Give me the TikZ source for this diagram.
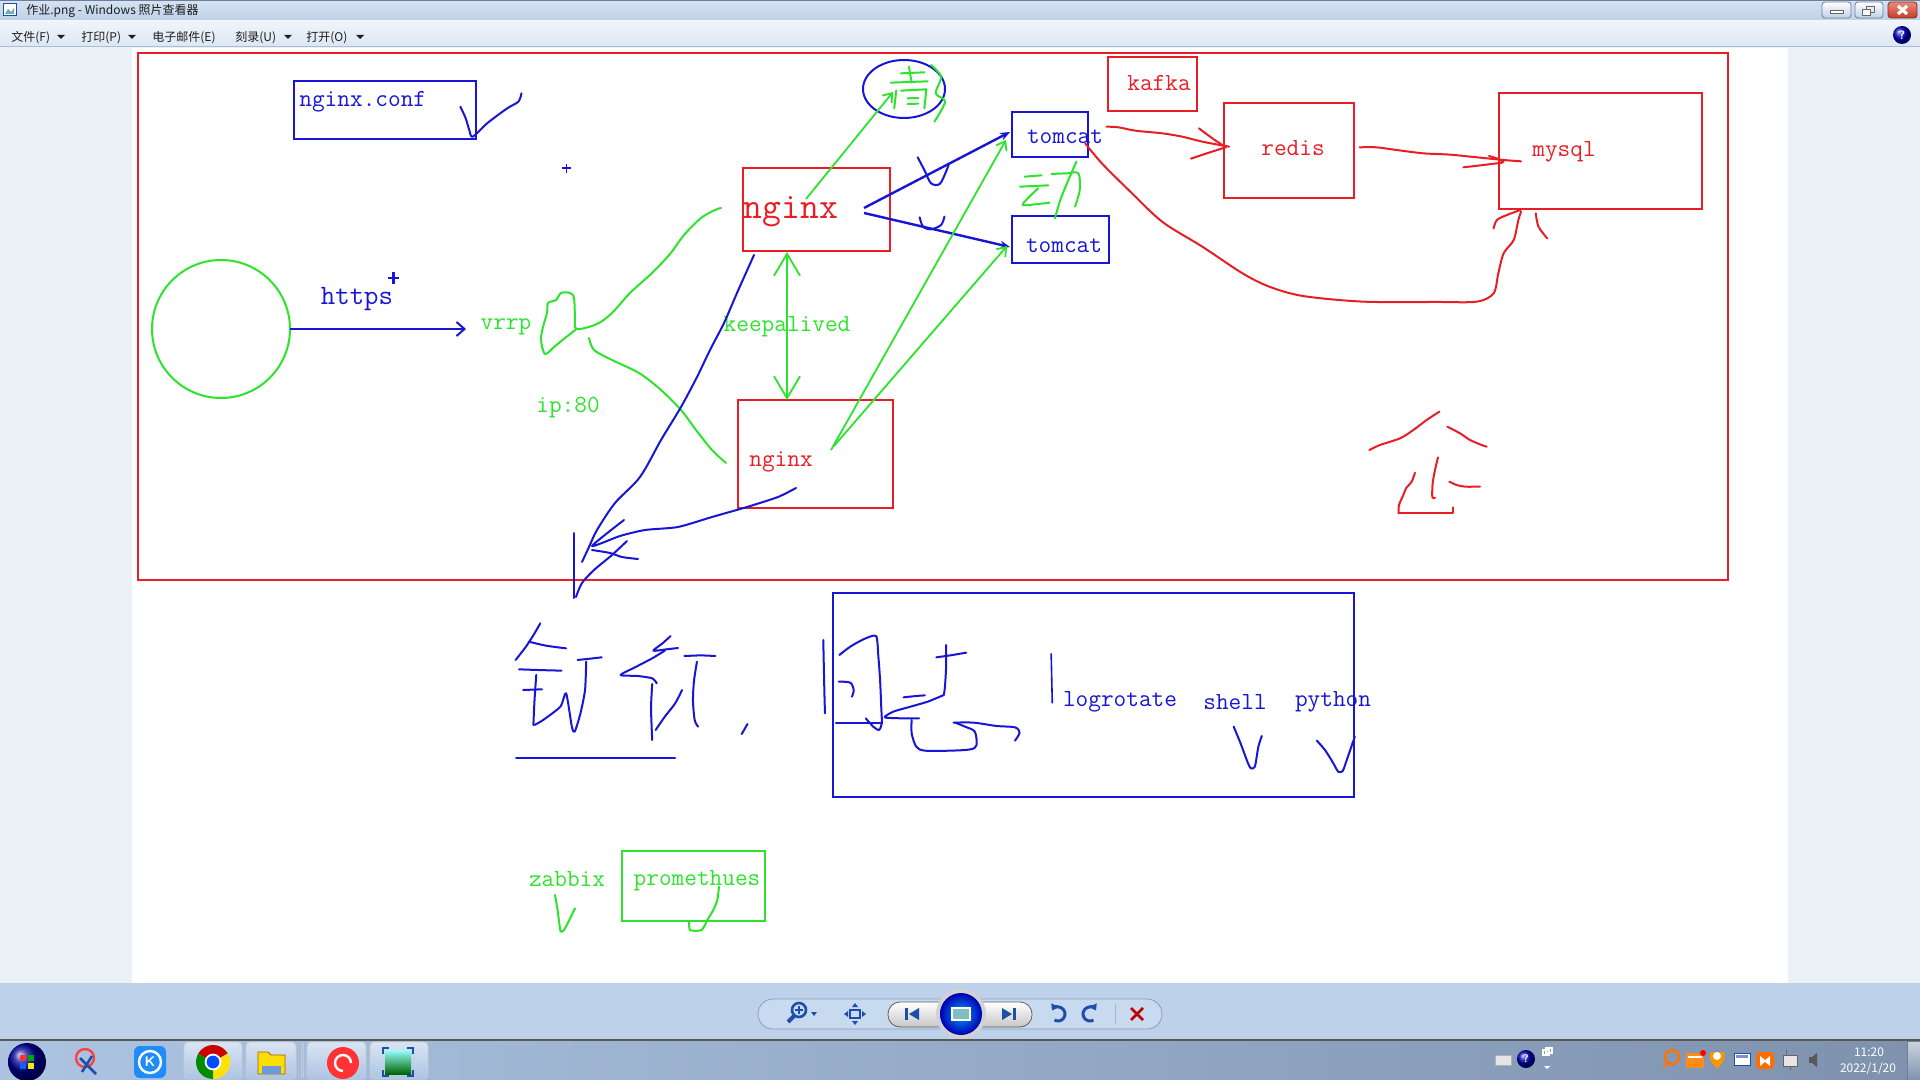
\documentclass[tikz,border=0pt]{standalone}
\usepackage{fontspec}
\newfontfamily\cjk{Noto Sans CJK SC}
\usetikzlibrary{arrows.meta,shapes.geometric}
\definecolor{pr}{RGB}{232,30,36}
\definecolor{pb}{RGB}{22,22,212}
\definecolor{pg}{RGB}{44,228,44}
\definecolor{viewbg}{RGB}{236,241,248}
\definecolor{titleA}{RGB}{214,227,242}
\definecolor{titleB}{RGB}{190,208,232}
\definecolor{menuA}{RGB}{240,245,251}
\definecolor{menuB}{RGB}{220,230,243}
\definecolor{menuline}{RGB}{170,188,212}
\definecolor{toolbg}{RGB}{190,209,234}
\definecolor{pillbg}{RGB}{200,218,239}
\definecolor{pilledge}{RGB}{140,158,182}
\definecolor{taskA}{RGB}{172,196,226}
\definecolor{taskB}{RGB}{126,146,174}
\definecolor{uitext}{RGB}{30,30,30}
\definecolor{iconblue}{RGB}{28,78,170}
\definecolor{btnedge}{RGB}{110,128,152}
\definecolor{closeA}{RGB}{232,140,120}
\definecolor{closeB}{RGB}{196,60,40}
\definecolor{kblue}{RGB}{30,140,250}
\begin{document}
\begin{tikzpicture}[x=0.5pt,y=-0.5pt,
  sz/.style 2 args={minimum width=#1*0.5pt,minimum height=#2*0.5pt,inner sep=0pt,outer sep=0pt},
  rbox/.style={draw=pr,line width=1pt},
  bbox/.style={draw=pb,line width=1pt},
  gbox/.style={draw=pg,line width=1pt},
  hand/.style={line width=1pt,line cap=round,line join=round},
  lbl/.style={font=\ttfamily\fontsize{12.3pt}{14pt}\selectfont,inner sep=0pt},
  ui/.style={font=\cjk\fontsize{6pt}{7pt}\selectfont,inner sep=0pt,text=uitext},
  barb/.style={-{Straight Barb[length=4pt,width=6pt]}},
  dbarb/.style={{Straight Barb[length=11pt,width=13pt]}-{Straight Barb[length=11pt,width=13pt]}},
  taskbtn/.style={top color=white!55!taskA,bottom color=taskA,draw=white!60!btnedge,rounded corners=2pt},
]
\useasboundingbox (0,0) rectangle (1920,1080);
% ---------- window chrome ----------
\fill[viewbg] (0,0) rectangle (1920,1080);
\shade[top color=titleA,bottom color=titleB] (0,0) rectangle (1920,21);
\draw[btnedge,line width=0.5pt] (0,0.5) -- (1920,0.5);
\fill[white] (3,4) rectangle (16,16);
\draw[iconblue,line width=0.5pt] (3,4) rectangle (16,16);
\fill[teal!60] (5,14) -- (8,9) -- (11,12) -- (14,8) -- (14,14) -- cycle;
\node[ui,anchor=west] (ttl) at (26,11) {作业.png - Windows 照片查看器};
\shadedraw[top color=white,bottom color=titleB,draw=btnedge,rounded corners=1.5pt] (1822,2) rectangle (1851,18);
\draw[fill=white,draw=black!60] (1830,10) rectangle (1843,13);
\shadedraw[top color=white,bottom color=titleB,draw=btnedge,rounded corners=1.5pt] (1855,2) rectangle (1883,18);
\draw[black!60] (1866,6) rectangle (1874,12);
\draw[fill=white,draw=black!60] (1862,9) rectangle (1870,15);
\shadedraw[top color=closeA,bottom color=closeB,draw=closeB!70!black,rounded corners=1.5pt] (1888,2) rectangle (1917,18);
\draw[white,line width=1.6pt] (1898,6) -- (1907,14) (1907,6) -- (1898,14);
% menu
\shade[top color=menuA,bottom color=menuB] (0,21) rectangle (1920,47);
\draw[menuline,line width=0.5pt] (0,47) -- (1920,47);
\node[ui,anchor=west] (m1) at (11,38) {文件(F)};
\fill[uitext] (57,35) -- (65,35) -- (61,39) -- cycle;
\node[ui,anchor=west] (m2) at (81,38) {打印(P)};
\fill[uitext] (128,35) -- (136,35) -- (132,39) -- cycle;
\node[ui,anchor=west] (m3) at (152,38) {电子邮件(E)};
\node[ui,anchor=west] (m4) at (235,38) {刻录(U)};
\fill[uitext] (284,35) -- (292,35) -- (288,39) -- cycle;
\node[ui,anchor=west] (m5) at (306,38) {打开(O)};
\fill[uitext] (356,35) -- (364,35) -- (360,39) -- cycle;
\shade[ball color=blue!75!black] (1902,35) circle (4.5pt);
\node[text=white,font=\bfseries\sffamily\fontsize{6pt}{7pt}\selectfont,inner sep=0pt] (help) at (1902,35) {?};
% picture area
\fill[white] (132,48) rectangle (1788,983);
% bottom toolbar
\fill[toolbg] (0,983) rectangle (1920,1040);
\draw[fill=pillbg,draw=pilledge,rounded corners=7.5pt] (758,999) rectangle (1162,1029);
\shadedraw[top color=white,bottom color=gray!45,draw=gray!75!black,rounded corners=6pt] (888,1002) rectangle (1032,1027);
\fill[gray!35] (961,1014) circle (12.5pt);
\shade[inner color=cyan!60!blue,outer color=blue!70!black] (961,1014) circle (10.5pt);
\fill[white] (951,1007) rectangle (971,1021);
\fill[teal!50] (953,1009) rectangle (969,1019);
\fill[iconblue] (905,1008) rectangle (908,1020);
\fill[iconblue] (909,1014) -- (919,1008) -- (919,1020) -- cycle;
\fill[iconblue] (1002,1008) -- (1012,1014) -- (1002,1020) -- cycle;
\fill[iconblue] (1013,1008) rectangle (1016,1020);
\draw[iconblue,line width=1.3pt] (799,1010) circle (3.5pt);
\draw[iconblue,line width=2pt] (794,1016) -- (788,1022);
\draw[iconblue,line width=0.9pt] (795,1010) -- (803,1010) (799,1006) -- (799,1014);
\fill[iconblue] (811,1012) -- (817,1012) -- (814,1016) -- cycle;
\draw[iconblue,line width=1pt] (850,1010) rectangle (860,1018);
\fill[iconblue] (844,1014) -- (848,1011) -- (848,1017) -- cycle;
\fill[iconblue] (866,1014) -- (862,1011) -- (862,1017) -- cycle;
\fill[iconblue] (855,1003) -- (852,1007) -- (858,1007) -- cycle;
\fill[iconblue] (855,1025) -- (852,1021) -- (858,1021) -- cycle;
\draw[iconblue,line width=1.5pt,-{Triangle[length=3pt,width=4pt]}] (1058,1014) ++(-120:3.5pt) arc[start angle=-120,end angle=150,radius=3.5pt];
\draw[iconblue,line width=1.5pt,-{Triangle[length=3pt,width=4pt]}] (1090,1014) ++(-60:3.5pt) arc[start angle=-60,end angle=-330,radius=3.5pt];
\draw[gray!60] (1115,1004) -- (1115,1024);
\draw[red!75!black,line width=1.3pt] (1131,1008) -- (1143,1020) (1143,1008) -- (1131,1020);
% taskbar
\shade[left color=taskA,right color=taskB] (0,1040) rectangle (1920,1080);
\draw[black!65,line width=0.6pt] (0,1040) -- (1920,1040);
\shadedraw[taskbtn] (184,1042) rectangle (242,1079);
\shadedraw[taskbtn] (246,1042) rectangle (296,1079);
\shadedraw[taskbtn] (307,1042) rectangle (366,1079);
\shadedraw[taskbtn] (370,1042) rectangle (428,1079);
\draw[white!60!btnedge] (301,1043) -- (301,1078) (303,1043) -- (303,1078);
\shadedraw[top color=white!60!taskB,bottom color=taskB,draw=btnedge] (1907,1041) rectangle (1920,1080);
\shade[ball color=blue!60!black] (27,1062) circle (9.5pt);
\fill[red!80] (20,1055) rectangle (26,1061);
\fill[green!65!black] (28,1055) rectangle (34,1061);
\fill[blue!60!cyan] (20,1063) rectangle (26,1069);
\fill[yellow!90!orange] (28,1063) rectangle (34,1069);
\draw[red!75,line width=1.2pt] (85,1058) circle (4.5pt);
\draw[iconblue,line width=1.3pt] (80,1058) -- (96,1074) (92,1056) -- (82,1072);
\fill[kblue,rounded corners=3pt] (134,1046) rectangle (166,1078);
\draw[white,line width=1.2pt] (150,1062) circle (5.5pt);
\node[text=white,font=\bfseries\sffamily\fontsize{7pt}{8pt}\selectfont,inner sep=0pt] (kic) at (150,1062) {K};
\fill[red!80!black] (213,1062) -- +(30:8.5pt) arc[start angle=30,end angle=150,radius=8.5pt] -- cycle;
\fill[yellow!85!orange] (213,1062) -- +(-90:8.5pt) arc[start angle=-90,end angle=30,radius=8.5pt] -- cycle;
\fill[green!55!black] (213,1062) -- +(150:8.5pt) arc[start angle=150,end angle=270,radius=8.5pt] -- cycle;
\fill[white] (213,1062) circle (4.2pt);
\fill[blue!70!cyan] (213,1062) circle (3.2pt);
\fill[yellow!80!orange] (258,1052) -- (268,1052) -- (271,1055) -- (285,1055) -- (285,1074) -- (258,1074) -- cycle;
\draw[orange!70!black,line width=0.4pt] (258,1052) -- (268,1052) -- (271,1055) -- (285,1055) -- (285,1074) -- (258,1074) -- cycle;
\fill[cyan!50!blue!60] (262,1066) rectangle (281,1074);
\fill[red!80] (343,1063) circle (8pt);
\draw[white,line width=1.2pt] (343,1063) ++(0:4pt) arc[start angle=0,end angle=270,radius=4pt];
\shade[top color=cyan!40,bottom color=green!40!black] (385,1050) rectangle (411,1074);
\draw[iconblue,line width=1.2pt] (383,1054) -- (383,1048) -- (389,1048) (407,1048) -- (413,1048) -- (413,1054) (413,1070) -- (413,1076) -- (407,1076) (389,1076) -- (383,1076) -- (383,1070);
% tray
\draw[fill=gray!20,draw=gray!60] (1495,1055) rectangle (1511,1065);
\shade[ball color=blue!70!black] (1526,1059) circle (4.5pt);
\node[text=white,font=\bfseries\sffamily\fontsize{5.5pt}{6pt}\selectfont,inner sep=0pt] (hq) at (1526,1059) {?};
\draw[white,line width=0.6pt] (1543,1050) rectangle (1549,1055) (1546,1048) rectangle (1552,1053);
\fill[white] (1544,1066) -- (1550,1066) -- (1547,1069) -- cycle;
\draw[orange!90!red,line width=1.3pt] (1672,1057) circle (3.5pt) (1668,1062) -- (1664,1067);
\fill[orange!90] (1686,1053) rectangle (1704,1068);
\fill[white] (1688,1056) rectangle (1702,1058);
\fill[red] (1703,1053) circle (1.5pt);
\fill[orange!85!yellow] (1710,1052) -- (1724,1052) -- (1724,1060) -- (1717,1069) -- (1710,1060) -- cycle;
\fill[white] (1717,1056) circle (2pt);
\draw[fill=white,draw=iconblue] (1734,1053) rectangle (1750,1065);
\fill[iconblue!60] (1736,1055) rectangle (1748,1058);
\fill[orange!85!red,rounded corners=2pt] (1756,1052) rectangle (1774,1069);
\fill[white] (1760,1056) -- (1766,1061) -- (1760,1066) -- cycle;
\fill[white] (1770,1056) -- (1764,1061) -- (1770,1066) -- cycle;
\draw[fill=gray!20,draw=black!60] (1783,1055) rectangle (1797,1066);
\draw[black!60] (1786,1050) -- (1786,1055) (1790,1070) -- (1790,1066);
\fill[gray!70!black] (1809,1057) rectangle (1812,1063);
\fill[gray!70!black] (1812,1057) -- (1817,1053) -- (1817,1067) -- (1812,1063) -- cycle;
\node[ui,text=white] (clk1) at (1869,1052) {11:20};
\node[ui,text=white] (clk2) at (1868,1069) {2022/1/20};
% ---------- diagram ----------
\node[rbox,sz={1590}{527}] (frame) at (933,316.5) {};
\node[bbox,sz={182}{58}] (confbox) at (385,110) {};
\node[lbl,text=pb,anchor=west] (tconf) at (299,102) {nginx.conf};
\node[draw=pg,line width=1pt,circle,sz={138}{138}] (client) at (221,329) {};
\node[lbl,text=pb,font=\ttfamily\fontsize{14pt}{16pt}\selectfont] (https) at (357,299) {https};
\node[lbl,text=pg] (vrrp) at (506,327) {vrrp};
\node[lbl,text=pg] (ip) at (568,408) {ip:80};
\node[lbl,text=pg] (keep) at (787,327) {keepalived};
\node[rbox,sz={147}{83}] (ngxA) at (816.5,209.5) {};
\node[lbl,text=pr,font=\ttfamily\fontsize{18.3pt}{20pt}\selectfont] (tngxA) at (791,212) {nginx};
\node[rbox,sz={155}{108}] (ngxB) at (815.5,454) {};
\node[lbl,text=pr] (tngxB) at (781,462) {nginx};
\node[draw=pb,line width=1pt,ellipse,sz={82}{58}] (qing) at (904,89) {};
\node[bbox,sz={76}{45}] (tomA) at (1050,134.5) {};
\node[lbl,text=pb] (ttomA) at (1065,137) {tomcat};
\node[bbox,sz={97}{47}] (tomB) at (1060.5,239.5) {};
\node[lbl,text=pb] (ttomB) at (1064,246) {tomcat};
\node[rbox,sz={89}{54}] (kafka) at (1152.5,84) {};
\node[lbl,text=pr] (tkafka) at (1159,83) {kafka};
\node[rbox,sz={130}{95}] (redis) at (1289,150.5) {};
\node[lbl,text=pr] (tredis) at (1293,148) {redis};
\node[rbox,sz={203}{116}] (mysql) at (1600.5,151) {};
\node[lbl,text=pr] (tmysql) at (1564,152) {mysql};
\node[bbox,sz={521}{204}] (logbox) at (1093.5,695) {};
\node[lbl,text=pb] (tlog) at (1120,702) {logrotate};
\node[lbl,text=pb] (tshell) at (1235,702) {shell};
\node[lbl,text=pb] (tpy) at (1333,702) {python};
\node[lbl,text=pg] (tzab) at (567,879) {zabbix};
\node[gbox,sz={143}{70}] (prom) at (693.5,886) {};
\node[lbl,text=pg] (tprom) at (697,881) {promethues};
% connector end points
\coordinate (vipin) at (466,329);
\coordinate (ngxOut1) at (864,208);
\coordinate (ngxOut2) at (864,213);
\coordinate (tomIn1) at (1010,132);
\coordinate (tomIn2) at (1010,247);
\coordinate (gOut1) at (831,450);
\coordinate (gOut2) at (834,446);
\coordinate (gIn1) at (1006,140);
\coordinate (gIn2) at (1007,246);
\coordinate (kaT) at (787,252);
\coordinate (kaB) at (787,400);
\coordinate (qOut) at (806,199);
\coordinate (qIn) at (893,92);
\draw[pb,line width=1pt,-{Straight Barb[length=4pt,width=7pt]}] (client.east) -- (vipin);
\draw[pb,line width=1.2pt,-{Stealth[length=5pt,width=4pt]}] (ngxOut1) -- (tomIn1);
\draw[pb,line width=1.2pt,-{Stealth[length=5pt,width=4pt]}] (ngxOut2) -- (tomIn2);
\draw[pg,line width=0.9pt,barb] (gOut1) -- (gIn1);
\draw[pg,line width=0.9pt,barb] (gOut2) -- (gIn2);
\draw[pg,line width=0.9pt,dbarb] (kaT) -- (kaB);
\draw[pg,line width=0.9pt,barb] (qOut) -- (qIn);
% plus marks
\draw[pb,line width=0.8pt] (562,168) -- (571,168) (566.5,164) -- (566.5,173);
\draw[pb,line width=1.1pt] (388,278) -- (399,278) (393.5,272) -- (393.5,284);
% green vrrp strokes
\draw[pg,hand] plot[smooth,tension=0.5] coordinates {(576.6,329) (565,338) (554,347) (545,354) (541,340) (543,327) (547,313) (548,303) (556,300) (561,293) (570,293) (574,298) (575,317) (576.6,329) (597,324) (612,313) (630,293) (652,273) (670,254) (684,235) (701,218) (715,210) (721,208)};
\draw[pg,hand] plot[smooth] coordinates {(589,338) (594,350) (612,360) (639,373) (661,390) (681,410) (696,430) (712,450) (726,463)};
% blue long strokes
\draw[pb,hand] plot[smooth] coordinates {(754,255) (737,293) (724,323) (710,350) (697,377) (681,407) (661,440) (640,477) (615,503) (597,530) (589,547) (582,562)};
\draw[pb,hand] plot[smooth,tension=0.4] coordinates {(624,520) (592,546) (620,536) (645,530) (678,527) (712,517) (747,507) (778,497) (796,488)};
\draw[pb,hand] plot[smooth] coordinates {(592,550) (610,553) (622,557) (638,559)};
\draw[pb,hand] plot[smooth] coordinates {(627,541) (612,555) (594,570) (582,583) (576,597)};
\draw[pb,hand] (574,533) -- (574,598);
% zoom-3 traced: nginx.conf tick
\begin{scope}[shift={(130,40)},xscale=0.4464,yscale=0.3333]
\draw[pb,hand] plot[smooth] coordinates {(740,200) (752,235) (760,270) (768,290) (800,250) (845,205) (870,185) (877,160)};
\end{scope}
% zoom-4 traced
\begin{scope}[shift={(700,40)},xscale=0.6697,yscale=0.3333]
\draw[pg,hand] (300,100) -- (335,97);
\draw[pg,hand] (312,80) -- (316,128);
\draw[pg,hand] (285,128) -- (340,124);
\draw[pg,hand] (293,152) -- (290,205);
\draw[pg,hand] (300,152) -- (338,148) -- (335,205);
\draw[pg,hand] (310,175) -- (326,174) (310,192) -- (326,191);
\draw[pg,hand] plot[smooth] coordinates {(345,75) (360,110) (352,160) (366,185) (350,245)};
\draw[pb,hand] plot[smooth] coordinates {(325,352) (335,390) (345,430) (358,432) (368,392) (372,370)};
\draw[pb,hand] plot[smooth] coordinates {(328,532) (333,560) (345,568) (360,555) (365,530)};
\draw[pg,hand] (485,410) -- (510,406);
\draw[pg,hand] (478,440) -- (520,436);
\draw[pg,hand] plot[smooth] coordinates {(505,445) (492,470) (482,495) (505,492) (522,488)};
\draw[pg,hand] plot[smooth] coordinates {(525,402) (548,400) (565,400) (567,450) (560,500)};
\draw[pg,hand] plot[smooth] coordinates {(562,365) (548,430) (538,480) (530,535)};
\draw[pr,hand] plot[smooth] coordinates {(607,260) (625,262) (650,272) (690,280) (720,290) (750,305) (790,320)};
\draw[pr,hand] plot[smooth] coordinates {(745,265) (765,295) (785,322)};
\draw[pr,hand] plot[smooth] coordinates {(785,322) (760,338) (733,356)};
\draw[pr,hand] plot[smooth] coordinates {(985,322) (1010,322) (1040,330) (1080,340) (1120,344) (1160,352) (1200,360) (1226,364)};
\draw[pr,hand] plot[smooth] coordinates {(1140,382) (1170,375) (1198,368)};
\draw[pr,hand] plot[smooth] coordinates {(1178,348) (1192,357) (1200,366)};
\draw[pr,hand] plot[smooth] coordinates {(575,310) (600,370) (640,450) (690,545) (750,620) (810,700) (850,740) (900,768) (990,785) (1100,786) (1160,785) (1185,760) (1192,700) (1200,640) (1215,600) (1222,540) (1226,515)};
\draw[pr,hand] plot[smooth] coordinates {(1185,565) (1190,540) (1205,525) (1225,510)};
\draw[pr,hand] plot[smooth] coordinates {(1248,520) (1252,560) (1265,595)};
\end{scope}
% zoom-8 traced: red character
\begin{scope}[shift={(1300,380)},scale=0.3333]
\draw[pr,hand] plot[smooth] coordinates {(208,210) (240,195) (300,175) (340,150) (380,120) (418,95)};
\draw[pr,hand] plot[smooth] coordinates {(442,140) (480,160) (510,180) (545,195) (560,200)};
\draw[pr,hand] plot[smooth] coordinates {(414,232) (405,270) (398,310) (397,352) (405,353)};
\draw[pr,hand] plot[smooth,tension=0.4] coordinates {(345,278) (335,305) (318,325) (310,345) (297,375) (296,400)};
\draw[pr,hand] (296,400) -- (460,400) -- (460,382);
\draw[pr,hand] plot[smooth] coordinates {(448,305) (470,315) (495,320) (540,320)};
\end{scope}
% zoom-6 traced: blue handwriting, ticks
\begin{scope}[shift={(480,580)},xscale=0.5740,yscale=0.3333]
\draw[pb,hand] plot[smooth] coordinates {(105,130) (95,160) (80,200) (62,240)};
\draw[pb,hand] plot[smooth] coordinates {(85,185) (115,197) (150,205)};
\draw[pb,hand] plot[smooth] coordinates {(68,268) (100,270) (142,272)};
\draw[pb,hand] (75,330) -- (108,328);
\draw[pb,hand] plot[smooth] coordinates {(98,285) (95,360) (93,435)};
\draw[pb,hand] (170,240) -- (192,236) -- (212,232);
\draw[pb,hand] plot[smooth,tension=0.4] coordinates {(185,245) (183,330) (175,400) (165,455) (160,440) (150,340) (140,380) (110,420) (95,435)};
\draw[pb,hand] plot[smooth,tension=0.4] coordinates {(332,168) (318,190) (302,212) (325,208) (345,204)};
\draw[pb,hand] (356,228) -- (385,226) -- (410,228);
\draw[pb,hand] plot[smooth,tension=0.4] coordinates {(322,212) (300,235) (270,262) (245,285) (275,288) (300,295) (308,310)};
\draw[pb,hand] plot[smooth] coordinates {(300,312) (298,380) (299,440) (300,480)};
\draw[pb,hand] plot[smooth] coordinates {(378,245) (373,300) (371,360) (374,420) (380,440)};
\draw[pb,hand] plot[smooth] coordinates {(352,330) (340,370) (322,410) (306,450)};
\draw[pb,hand] (466,432) -- (460,450) -- (456,462);
\draw[pb,hand] plot[smooth] coordinates {(598,180) (599,260) (600,340) (601,400)};
\draw[pb,hand] plot[smooth,tension=0.4] coordinates {(626,225) (645,200) (668,178) (690,168) (694,230) (697,300) (699,380) (700,430) (695,450) (685,440) (672,415)};
\draw[pb,hand] plot[smooth] coordinates {(625,305) (645,308) (651,330) (648,350)};
\draw[pb,hand] (620,430) -- (700,430);
\draw[pb,hand] (795,232) -- (820,226) -- (847,218);
\draw[pb,hand] plot[smooth] coordinates {(812,195) (812,260) (810,320) (808,345)};
\draw[pb,hand] (738,352) -- (760,348) -- (775,346);
\draw[pb,hand] plot[smooth,tension=0.4] coordinates {(808,345) (780,365) (750,380) (720,395) (705,412) (735,415) (765,415)};
\draw[pb,hand] plot[smooth,tension=0.5] coordinates {(752,420) (752,460) (760,500) (775,512) (820,512) (855,508) (865,495) (862,455) (845,440) (828,428)};
\draw[pb,hand] plot[smooth] coordinates {(825,428) (860,428) (900,438) (932,442) (940,458) (932,482)};
\draw[pb,hand] (63,535) -- (340,535);
\draw[pb,line width=0.8pt] (995,220) -- (997,370);
\draw[pb,hand] plot[smooth,tension=0.4] coordinates {(1313,440) (1325,490) (1338,550) (1343,565) (1350,560) (1356,500) (1362,468)};
\draw[pb,hand] plot[smooth,tension=0.4] coordinates {(1458,482) (1472,510) (1485,545) (1495,575) (1503,573) (1510,540) (1518,500) (1524,470)};
\end{scope}
% zoom-7 traced: green ticks
\begin{scope}[shift={(480,820)},scale=0.3333]
\draw[pg,hand] plot[smooth,tension=0.4] coordinates {(225,225) (232,265) (238,310) (242,335) (252,330) (268,300) (285,265)};
\draw[pg,hand] plot[smooth,tension=0.4] coordinates {(717,200) (712,240) (700,270) (685,295) (665,330) (630,330) (628,302)};
\end{scope}
\end{tikzpicture}
\end{document}
